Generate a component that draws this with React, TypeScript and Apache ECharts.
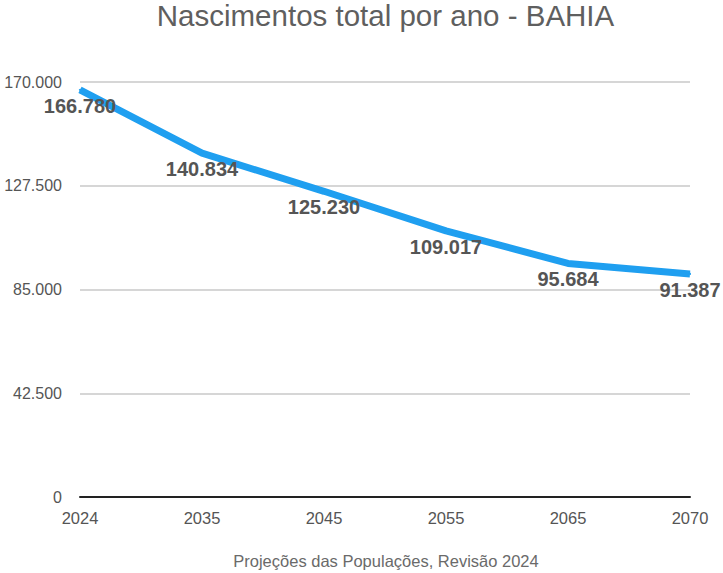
import React, { useEffect, useRef } from "react";
import * as echarts from "echarts";

const years = ["2024", "2035", "2045", "2055", "2065", "2070"];
const births = [166780, 140834, 125230, 109017, 95684, 91387];
const yTicks = [0, 42500, 85000, 127500, 170000];
const titleText = "Nascimentos total por ano - BAHIA";
const footerText = "Projeções das Populações, Revisão 2024";

const fmt = (v: number) => {
  const s = Math.round(v).toString();
  return s.replace(/\B(?=(\d{3})+(?!\d))/g, ".");
};

export default function App() {
  const ref = useRef<HTMLDivElement>(null);
  useEffect(() => {
    const chart = echarts.init(ref.current!, null, { renderer: "svg" });
    chart.setOption({
      animation: false,
      textStyle: { fontFamily: "Liberation Sans" },
      grid: { left: 80, right: 33, top: 82, bottom: 76 },
      graphic: [
        {
          type: "text",
          x: 385.5,
          y: 15.5,
          style: {
            text: titleText,
            font: "29.5px 'Liberation Sans'",
            fill: "#5f5f5f",
            align: "center",
            verticalAlign: "middle",
          },
        },
        {
          type: "text",
          x: 386,
          y: 560.5,
          style: {
            text: footerText,
            font: "16.5px 'Liberation Sans'",
            fill: "#6a6a6a",
            align: "center",
            verticalAlign: "middle",
          },
        },
      ],
      xAxis: {
        type: "category",
        data: years,
        boundaryGap: false,
        axisLine: { lineStyle: { color: "#222", width: 2 } },
        axisTick: { show: false },
        axisLabel: { color: "#555", fontSize: 16.5, margin: 12 },
      },
      yAxis: {
        type: "value",
        min: yTicks[0],
        max: yTicks[yTicks.length - 1],
        interval: yTicks[1] - yTicks[0],
        axisLine: { show: false },
        axisTick: { show: false },
        splitLine: { lineStyle: { color: "#c8c8c8", width: 1.5 } },
        axisLabel: { color: "#555", fontSize: 16, margin: 18, formatter: (v: number) => fmt(v) },
      },
      series: [
        {
          type: "line",
          data: births,
          showSymbol: true,
          symbol: "circle",
          symbolSize: 2,
          lineStyle: { color: "#1f9ff0", width: 7 },
          itemStyle: { color: "#1f9ff0" },
          label: {
            show: true,
            position: "bottom",
            distance: 5,
            color: "#555",
            fontSize: 20,
            fontWeight: "bold",
            formatter: (p: any) => fmt(p.value),
          },
        },
      ],
    });
    return () => chart.dispose();
  }, []);
  return (
    <div
      ref={ref}
      style={{ position: "fixed", left: 0, top: 0, width: 723, height: 573, background: "#fff" }}
    />
  );
}
